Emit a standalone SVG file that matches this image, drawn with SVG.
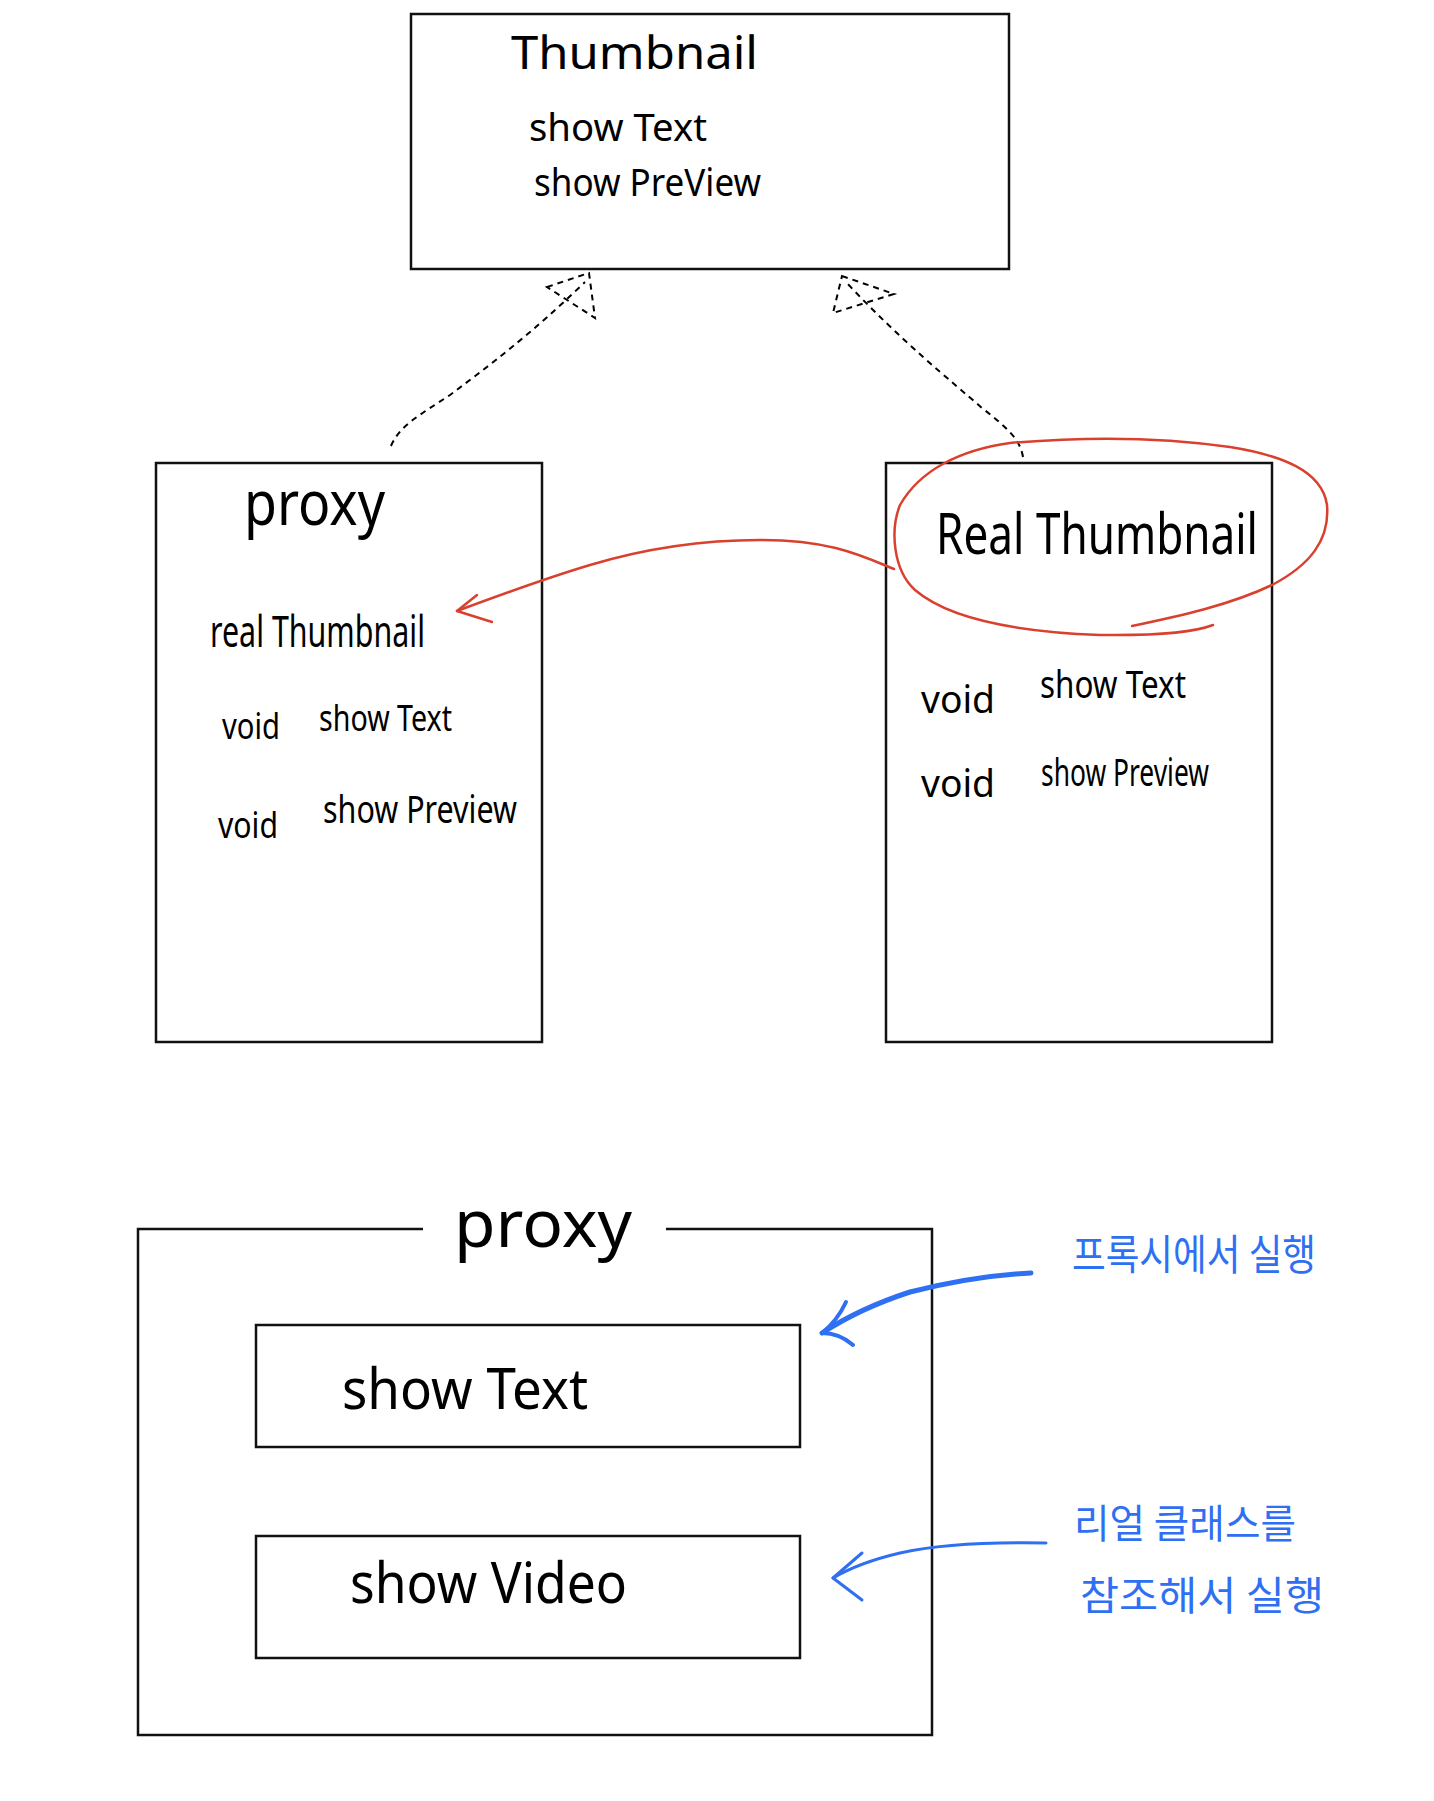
<svg xmlns="http://www.w3.org/2000/svg" width="1434" height="1801" viewBox="0 0 1434 1801">
<style>
.box{fill:none;stroke:#111;stroke-width:2.5}
.t{font-family:"Noto Sans","Liberation Sans","Noto Sans CJK KR",sans-serif;fill:#000}
.k{font-family:"Noto Sans CJK KR","Noto Sans",sans-serif;fill:#2f6ff2}
.dash{fill:none;stroke:#000;stroke-width:2;stroke-dasharray:6 5}
.red{fill:none;stroke:#d9412e;stroke-width:2.5;stroke-linecap:round;stroke-linejoin:round}
.blue{fill:none;stroke:#2f6ff2;stroke-linecap:round;stroke-linejoin:round}
</style>
<rect width="1434" height="1801" fill="#fff"/>
<g id="thumbnail">
<rect class="box" x="411" y="14" width="598" height="255"/>
<text class="t" x="511" y="69" font-size="46" textLength="247" lengthAdjust="spacingAndGlyphs">Thumbnail</text>
<text class="t" x="529" y="141" font-size="38" textLength="178" lengthAdjust="spacingAndGlyphs">show Text</text>
<text class="t" x="534" y="196" font-size="38" textLength="227" lengthAdjust="spacingAndGlyphs">show PreView</text>
</g>
<g id="proxy">
<rect class="box" x="156" y="463" width="386" height="579"/>
<text class="t" x="244" y="525" font-size="62" textLength="141" lengthAdjust="spacingAndGlyphs">proxy</text>
<text class="t" x="210" y="647" font-size="44" textLength="215" lengthAdjust="spacingAndGlyphs">real Thumbnail</text>
<text class="t" x="222" y="739" font-size="36" textLength="58" lengthAdjust="spacingAndGlyphs">void</text>
<text class="t" x="319" y="731" font-size="36" textLength="133" lengthAdjust="spacingAndGlyphs">show Text</text>
<text class="t" x="218" y="838" font-size="36" textLength="60" lengthAdjust="spacingAndGlyphs">void</text>
<text class="t" x="323" y="823" font-size="38" textLength="194" lengthAdjust="spacingAndGlyphs">show Preview</text>
</g>
<g id="real-thumbnail">
<rect class="box" x="886" y="463" width="386" height="579"/>
<text class="t" x="936" y="554" font-size="56" textLength="322" lengthAdjust="spacingAndGlyphs">Real Thumbnail</text>
<text class="t" x="921" y="713" font-size="38" textLength="74" lengthAdjust="spacingAndGlyphs">void</text>
<text class="t" x="1040" y="698" font-size="38" textLength="146" lengthAdjust="spacingAndGlyphs">show Text</text>
<text class="t" x="921" y="797" font-size="38" textLength="74" lengthAdjust="spacingAndGlyphs">void</text>
<text class="t" x="1041" y="786" font-size="38" textLength="168" lengthAdjust="spacingAndGlyphs">show Preview</text>
</g>
<g id="proxy-frame">
<path class="box" d="M423,1229 H138 V1735 H932 V1229 H666"/>
<text class="t" x="454" y="1247" font-size="66" textLength="178" lengthAdjust="spacingAndGlyphs">proxy</text>
</g>
<g id="show-text">
<rect class="box" x="256" y="1325" width="544" height="122"/>
<text class="t" x="342" y="1409" font-size="56" textLength="246" lengthAdjust="spacingAndGlyphs">show Text</text>
</g>
<g id="show-video">
<rect class="box" x="256" y="1536" width="544" height="122"/>
<text class="t" x="350" y="1603" font-size="56" textLength="277" lengthAdjust="spacingAndGlyphs">show Video</text>
</g>
<g id="note-proxy">
<text class="k" x="1072" y="1270" font-size="42" textLength="244" lengthAdjust="spacingAndGlyphs">프록시에서 실행</text>
</g>
<g id="note-real">
<text class="k" x="1074" y="1538" font-size="40" textLength="222" lengthAdjust="spacingAndGlyphs">리얼 클래스를</text>
<text class="k" x="1080" y="1610" font-size="40" textLength="244" lengthAdjust="spacingAndGlyphs">참조해서 실행</text>
</g>
<g id="connectors">
<path class="dash" d="M391,446 C400,425 420,415 450,395 C490,365 530,335 585,282"/>
<path class="dash" d="M547,287 L589,273 L595,318 Z"/>
<path class="dash" d="M1023,457 C1020,440 1010,430 982,408 C950,380 900,340 845,281"/>
<path class="dash" d="M842,276 L894,294 L833,313 Z"/>
<path class="red" d="M1132,626 C1180,616 1230,605 1272,585 C1310,565 1330,540 1327,505 C1322,470 1280,455 1230,447 C1160,437 1080,437 1010,443 C960,450 920,470 900,505 C890,530 893,570 915,590 C950,620 1020,632 1100,635 C1170,636 1200,630 1213,625"/>
<path class="red" d="M894,569 C860,555 830,540 760,540 C700,540 640,550 590,565 C540,580 500,595 457,611"/>
<path class="red" d="M477,595 L457,611 L492,622"/>
<path class="blue" stroke-width="5" d="M1031,1273 C990,1275 950,1282 910,1292 C870,1305 845,1318 822,1333"/>
<path class="blue" stroke-width="4" d="M846,1302 C840,1315 832,1325 822,1333 C835,1333 845,1338 853,1345"/>
<path class="blue" stroke-width="3" d="M1046,1543 C990,1542 940,1544 900,1553 C870,1560 850,1568 833,1578"/>
<path class="blue" stroke-width="3" d="M862,1553 L833,1578 L862,1600"/>
</g>
</svg>
